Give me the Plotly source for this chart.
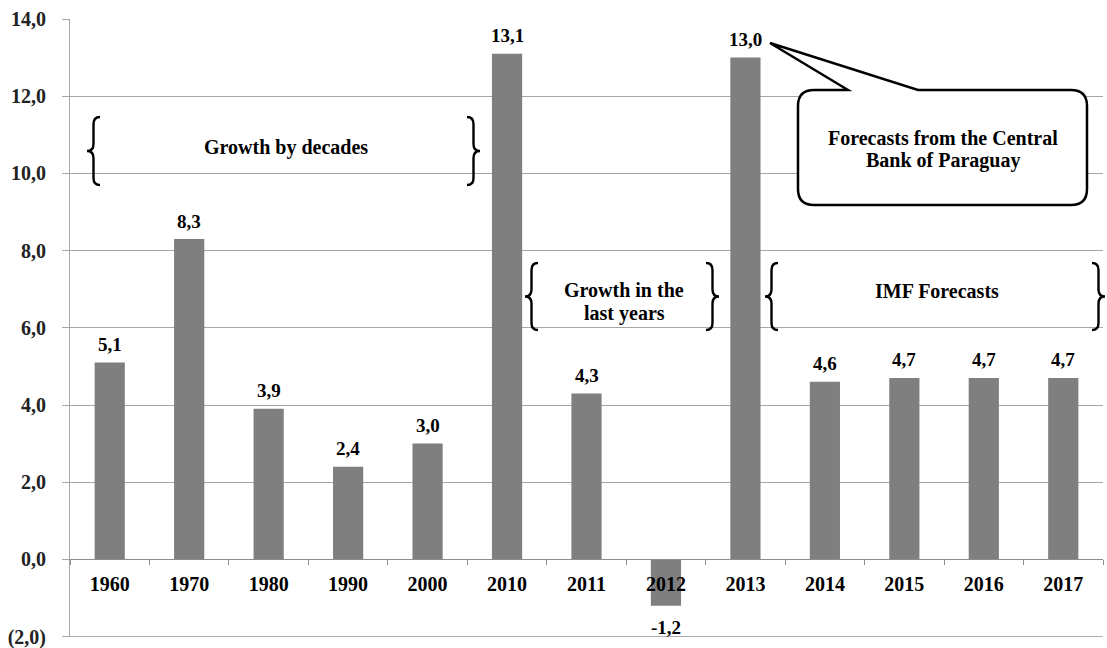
import plotly.graph_objects as go

# ---------------- data ----------------
years = ["1960", "1970", "1980", "1990", "2000", "2010", "2011",
         "2012", "2013", "2014", "2015", "2016", "2017"]
growth = [5.1, 8.3, 3.9, 2.4, 3.0, 13.1, 4.3, -1.2, 13.0, 4.6, 4.7, 4.7, 4.7]
y_tick_values = [-2, 0, 2, 4, 6, 8, 10, 12, 14]
y_tick_labels = ["(2,0)", "0,0", "2,0", "4,0", "6,0", "8,0", "10,0", "12,0", "14,0"]
value_labels = [f"{v:.1f}".replace(".", ",") for v in growth]

# ---------------- layout helpers ----------------
FONT = "Liberation Serif"
W, H = 1107, 648
L, R, T, B = 70, 4, 19, 11
PW, PH = W - L - R, H - T - B
Y_MIN, Y_MAX = -2, 14
Y_LO = Y_MIN - 0.01  # tiny extension so the bottom tick label is kept


def to_paper(x, y):
    return (x - L) / PW, (H - B - y) / PH


def path_from(cmds):
    out = []
    for c in cmds:
        if isinstance(c, str):
            out.append(c)
        else:
            px_, py_ = to_paper(*c)
            out.append(f"{px_:.5f},{py_:.5f}")
    return " ".join(out)


def brace(x_tip, x_back, y0, y1, k=7):
    xm = (x_tip + x_back) / 2
    ym = (y0 + y1) / 2
    cmds = ["M", (x_back, y0), "Q", (xm, y0), (xm, y0 + k), "L", (xm, ym - k),
            "Q", (xm, ym), (x_tip, ym), "Q", (xm, ym), (xm, ym + k),
            "L", (xm, y1 - k), "Q", (xm, y1), (x_back, y1)]
    return dict(type="path", xref="paper", yref="paper", path=path_from(cmds),
                line=dict(color="black", width=2.4), layer="above")


def callout(x0, x1, y0, y1, r, b0, b1, tip):
    cmds = ["M", (b0, y0), "L", tip, "L", (b1, y0), "L", (x1 - r, y0),
            "Q", (x1, y0), (x1, y0 + r), "L", (x1, y1 - r), "Q", (x1, y1), (x1 - r, y1),
            "L", (x0 + r, y1), "Q", (x0, y1), (x0, y1 - r), "L", (x0, y0 + r),
            "Q", (x0, y0), (x0 + r, y0), "Z"]
    return dict(type="path", xref="paper", yref="paper", path=path_from(cmds),
                line=dict(color="black", width=2.5), fillcolor="white", layer="above")


def text_at(x, y, txt, size=20):
    px_, py_ = to_paper(x, y)
    return dict(xref="paper", yref="paper", x=px_, y=py_, text=f"<b>{txt}</b>",
                showarrow=False, xanchor="center", yanchor="middle",
                font=dict(family=FONT, size=size, color="black"))


# ---------------- figure ----------------
fig = go.Figure()
fig.add_trace(go.Bar(x=years, y=growth, width=0.38,
                     marker=dict(color="#7f7f7f", line=dict(width=0)),
                     hoverinfo="skip"))

annotations = []
for i, (v, lab) in enumerate(zip(growth, value_labels)):
    annotations.append(dict(x=i, y=v, xref="x", yref="y", text=f"<b>{lab}</b>",
                            showarrow=False, xanchor="center", yanchor="middle",
                            yshift=18 if v >= 0 else -22,
                            font=dict(family=FONT, size=19, color="black")))

annotations += [
    text_at(286, 147, "Growth by decades"),
    text_at(624, 290, "Growth in the"),
    text_at(624, 313, "last years"),
    text_at(937, 291, "IMF Forecasts"),
    text_at(943, 138, "Forecasts from the Central"),
    text_at(943, 160, "Bank of Paraguay"),
]

shapes = [
    dict(type="line", xref="paper", yref="y", x0=0, x1=1, y0=Y_MIN, y1=Y_MIN,
         line=dict(color="#a6a6a6", width=1), layer="below"),
    brace(87, 100, 117, 185), brace(480, 467, 117, 185),
    brace(525, 538, 263, 330), brace(719, 706, 263, 330),
    brace(765, 778, 263, 330), brace(1105, 1092, 263, 330),
    callout(798, 1087, 90, 205, 16, 848, 918, (770, 43)),
]

fig.update_layout(
    width=W, height=H,
    margin=dict(l=L, r=R, t=T, b=B, pad=0, autoexpand=False),
    paper_bgcolor="white", plot_bgcolor="white",
    showlegend=False,
    annotations=annotations,
    shapes=shapes,
    xaxis=dict(type="category", range=[-0.5, len(years) - 0.5],
               anchor="free", position=(0 - Y_LO) / (Y_MAX - Y_LO),
               automargin=False,
               showline=True, linecolor="#8c8c8c", linewidth=1,
               ticks="outside", tickson="boundaries", ticklen=5,
               tickcolor="#8c8c8c", showgrid=False,
               tickfont=dict(family=FONT, size=20, color="black", weight="bold"),
               ticklabelstandoff=7),
    yaxis=dict(range=[Y_LO, Y_MAX], tickvals=y_tick_values, ticktext=y_tick_labels,
               automargin=False, ticklabeloverflow="allow",
               showgrid=True, gridcolor="#a6a6a6", gridwidth=1, zeroline=False,
               showline=True, linecolor="#a6a6a6", linewidth=1,
               ticks="outside", ticklen=7, tickcolor="#a6a6a6",
               tickfont=dict(family=FONT, size=20, color="#222222", weight="bold"),
               ticklabelstandoff=12),
)

fig.write_html(
    "out.html",
    config={"displayModeBar": False},
    post_script="document.body.style.margin='0px';document.body.style.overflow='hidden';",
)
